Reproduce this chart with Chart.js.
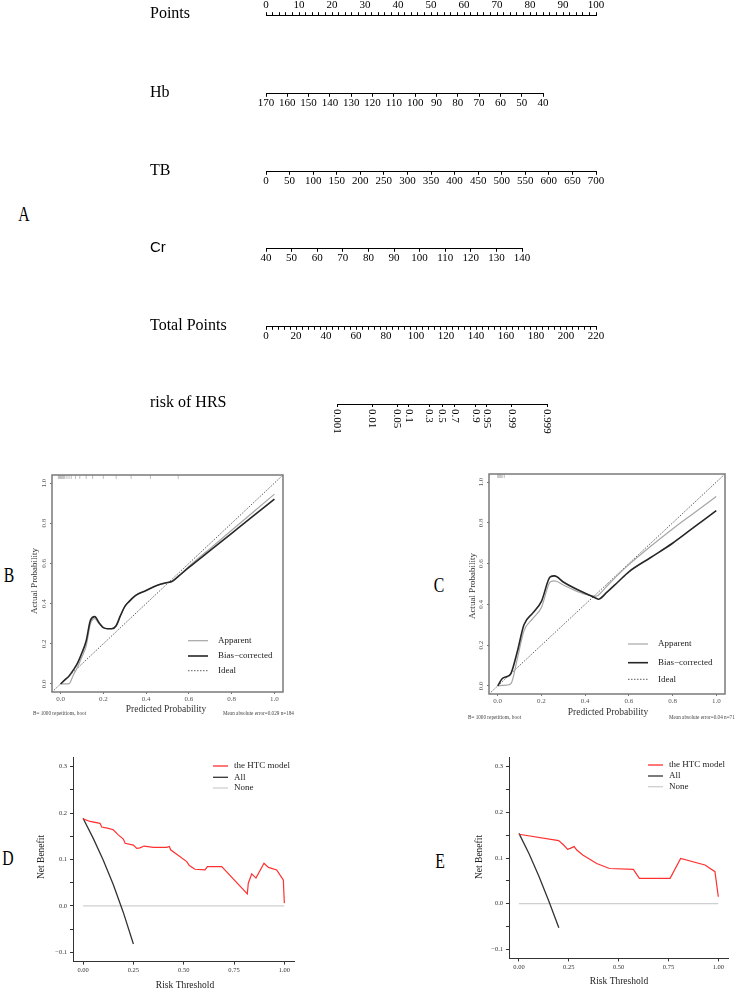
<!DOCTYPE html>
<html><head><meta charset="utf-8">
<script src="https://cdn.jsdelivr.net/npm/chart.js@4.4.1/dist/chart.umd.min.js"></script>
<style>
html,body{margin:0;padding:0;background:#fff;}
body{position:relative;width:736px;height:991px;overflow:hidden;}
canvas{position:absolute;}
.lt{position:absolute;width:30px;text-align:center;font-family:'Liberation Serif','Times New Roman',serif;font-size:21px;line-height:21px;color:#000;transform:scaleX(.75);}
</style></head><body>
<div class="lt" style="left:9px;top:204px">A</div>
<div class="lt" style="left:-6px;top:565px">B</div>
<div class="lt" style="left:424px;top:575px">C</div>
<div class="lt" style="left:-7px;top:848px">D</div>
<div class="lt" style="left:425px;top:851px">E</div>
<script>
const SERIF = "'Liberation Serif','Times New Roman',serif";
const SANS = "'Liberation Sans',Arial,sans-serif";

// ---------- Panel A: nomogram ----------
const pointsMajor = [0,10,20,30,40,50,60,70,80,90,100];
const hbTicks = [170,160,150,140,130,120,110,100,90,80,70,60,50,40];
const tbTicks = [0,50,100,150,200,250,300,350,400,450,500,550,600,650,700];
const crTicks = [40,50,60,70,80,90,100,110,120,130,140];
const totalMajor = [0,20,40,60,80,100,120,140,160,180,200,220];
const riskTicks = [0.001,0.01,0.05,0.1,0.3,0.5,0.7,0.9,0.95,0.99,0.999];
const riskLabels = ['0.001','0.01','0.05','0.1','0.3','0.5','0.7','0.9','0.95','0.99','0.999'];

// ---------- Panels B / C: calibration ----------
const calTicks = [0,0.2,0.4,0.6,0.8,1.0];
const calTickLabels = ['0.0','0.2','0.4','0.6','0.8','1.0'];
const idealLine = [-0.04, 1.04];
const calBX        = [0,0.02,0.04,0.06,0.08,0.10,0.12,0.14,0.16,0.18,0.20,0.22,0.24,0.26,0.28,0.30,0.32,0.35,0.40,0.45,0.50,0.52,0.55,0.60,0.70,0.80,0.90,1.00];
const calBBias     = [0,0.02,0.04,0.07,0.105,0.155,0.215,0.318,0.335,0.305,0.28,0.275,0.275,0.29,0.34,0.385,0.41,0.44,0.465,0.49,0.505,0.51,0.535,0.58,0.665,0.75,0.835,0.92];
const calBApparent = [0,0,0.002,0.045,0.085,0.135,0.19,0.30,0.325,0.30,0.28,0.275,0.275,0.29,0.34,0.385,0.41,0.44,0.465,0.49,0.505,0.51,0.535,0.585,0.675,0.765,0.855,0.945];
const rugB = [-0.01,-0.005,0,0.005,0.01,0.015,0.02,0.03,0.04,0.05,0.07,0.09,0.12,0.15,0.2,0.26,0.33,0.42,0.55];
const calCX        = [0,0.02,0.04,0.06,0.09,0.12,0.16,0.20,0.24,0.26,0.30,0.35,0.40,0.45,0.46,0.50,0.55,0.60,0.70,0.80,0.90,1.00];
const calCBias     = [0,0.035,0.045,0.06,0.17,0.30,0.357,0.415,0.535,0.54,0.51,0.48,0.455,0.43,0.425,0.46,0.51,0.56,0.63,0.70,0.78,0.86];
const calCApparent = [0,0.002,0.004,0.01,0.135,0.27,0.33,0.385,0.51,0.515,0.495,0.47,0.45,0.44,0.445,0.49,0.545,0.595,0.685,0.77,0.85,0.93];
const rugC = [0,0.005,0.01,0.015,0.02,0.03];
const rugLevel = 1.03;

// ---------- Panels D / E: decision curves ----------
const dcaXTicks = [0,0.25,0.5,0.75,1];
const dcaXLabels = ['0.00','0.25','0.50','0.75','1.00'];
const dcaYTicks = [-0.1,-0.05,0,0.05,0.1,0.15,0.2,0.25,0.3];
const dcaYLabels = ['\u22120.1','','0.0','','0.1','','0.2','','0.3'];
const noneX = [0,1];
const noneY = [0,0];
const dModelX = [0,0.035,0.084,0.093,0.126,0.15,0.175,0.2,0.209,0.25,0.267,0.283,0.303,0.35,0.416,0.429,0.435,0.515,0.528,0.556,0.606,0.618,0.689,0.816,0.821,0.838,0.859,0.899,0.921,0.962,0.978,0.995,1.0];
const dModelY = [0.1875,0.182,0.178,0.17,0.167,0.164,0.153,0.144,0.135,0.131,0.124,0.125,0.129,0.126,0.126,0.128,0.121,0.0955,0.087,0.079,0.0776,0.0848,0.0848,0.026,0.049,0.069,0.060,0.092,0.083,0.0776,0.067,0.056,0.006];
const dAllX = [0,0.05,0.10,0.15,0.20,0.25];
const dAllY = [0.189,0.146,0.099,0.046,-0.014,-0.082];
const eModelX = [0,0.199,0.224,0.244,0.257,0.277,0.29,0.32,0.39,0.454,0.574,0.604,0.758,0.811,0.933,0.983,1.0];
const eModelY = [0.152,0.138,0.1285,0.119,0.121,0.125,0.1175,0.1066,0.088,0.077,0.075,0.0555,0.0555,0.099,0.0847,0.070,0.015];
const eAllX = [0,0.05,0.10,0.15,0.20];
const eAllY = [0.154,0.11,0.06,0.005,-0.053];

// ---------- helpers ----------
function logit(p){ return Math.log(p/(1-p)); }
function range(a,b,st){ const r=[]; for(let v=a; v<=b+1e-9; v+=st) r.push(Math.round(v*1000)/1000); return r; }
function pts(xs, ys){ return xs.map((x,i)=>({x:x, y:ys[i]})); }
function makeCanvas(left, top, w, h){
  const c=document.createElement('canvas'); c.width=w; c.height=h;
  c.style.left=left+'px'; c.style.top=top+'px';
  document.body.appendChild(c); return c;
}
function drawText(ctx, s, x, y, o){
  ctx.save(); ctx.translate(x,y);
  if (o.rotate) ctx.rotate(o.rotate);
  if (o.sx) ctx.scale(o.sx,1);
  ctx.font = o.font; ctx.fillStyle = o.color || '#000';
  ctx.textAlign = o.align || 'center'; ctx.textBaseline = o.baseline || 'middle';
  ctx.fillText(s,0,0); ctx.restore();
}
const noInteract = {responsive:false, animation:false, events:[]};

// ---------- A: nomogram rows ----------
const rows = [
  {name:'Points', y:15, x0:266, x1:596, min:0, max:100, pos:'top', ticks:range(0,100,2), major:pointsMajor},
  {name:'Hb', y:94, x0:266, x1:543, min:40, max:170, reverse:true, ticks:hbTicks},
  {name:'TB', y:172, x0:266, x1:596, min:0, max:700, ticks:tbTicks},
  {name:'Cr', y:249, x0:266, x1:522, min:40, max:140, ticks:crTicks, sans:true},
  {name:'Total Points', y:327, x0:266, x1:596, min:0, max:220, ticks:range(0,220,4), major:totalMajor},
  {name:'risk of HRS', y:404, x0:337, x1:547, min:logit(0.001), max:logit(0.999), ticks:riskTicks.map(logit), rot:true}
];
rows.forEach((r, idx) => {
  const pos = r.pos || 'bottom';
  const H = r.rot ? 66 : 44;
  const cv = makeCanvas(0, 0, 736, H);
  const ch = new Chart(cv, {
    type:'scatter', data:{datasets:[]},
    options:Object.assign({}, noInteract, {
      layout:{padding:{left:r.x0, right:736-r.x1, top: pos==='top'?2:6, bottom: pos==='top'?6:(r.rot?42:2)}},
      plugins:{legend:{display:false}, tooltip:{enabled:false}},
      scales:{
        y:{display:false, min:0, max:1},
        x:{type:'linear', position:pos, min:r.min, max:r.max, reverse:!!r.reverse,
          afterBuildTicks: s => { s.ticks = r.ticks.map(v => ({value:v})); },
          grid:{display:true, drawOnChartArea:false, drawTicks:true, tickLength:3, color:'#000', lineWidth:1},
          border:{display:true, color:'#000', width:1},
          ticks:{display:!r.rot, autoSkip:false, minRotation:0, maxRotation:0, padding:0, color:'#000',
            font:{family:SERIF, size:11},
            callback: v => (r.major ? (r.major.indexOf(v) >= 0 ? String(v) : '') : String(v))}
        }
      }
    }),
    plugins:[{id:'nomoRow'+idx, afterDraw(chart){
      const s = chart.scales.x, ctx = chart.ctx;
      const lineY = pos==='top' ? s.bottom : s.top;
      drawText(ctx, r.name, 150, lineY+3, {font: r.sans ? ('15px '+SANS) : ('16px '+SERIF), align:'left', baseline:'alphabetic'});
      if (r.rot) {
        riskTicks.forEach((p,i) => drawText(ctx, riskLabels[i], s.getPixelForValue(logit(p)), lineY+5,
          {font:'11px '+SERIF, align:'left', baseline:'middle', rotate:Math.PI/2}));
      }
    }}]
  });
  const s = ch.scales.x;
  const lineY = pos==='top' ? s.bottom : s.top;
  cv.style.top = (r.y - lineY) + 'px';
});

// ---------- B / C: calibration ----------
function calibChart(c){
  const cv = makeCanvas(c.left, c.top, c.w, c.h);
  const A = c.area;
  new Chart(cv, {
    type:'scatter',
    data:{datasets:[
      {label:'Bias\u2212corrected', data:pts(c.x, c.bias), showLine:true, borderColor:'#262626', borderWidth:1.6, pointRadius:0, cubicInterpolationMode:'monotone'},
      {label:'Apparent', data:pts(c.x, c.app), showLine:true, borderColor:'#a6a6a6', borderWidth:1.2, pointRadius:0, cubicInterpolationMode:'monotone'},
      {label:'Ideal', data:pts(idealLine, idealLine), showLine:true, borderColor:'#333', borderWidth:0.8, borderDash:[1.5,1.5], pointRadius:0},
      {label:'rug', data:c.rug.map(v => ({x:v, y:rugLevel})), showLine:false, pointStyle:'line', rotation:90, pointRadius:2, borderColor:'rgba(110,110,110,0.45)', borderWidth:1}
    ]},
    options:Object.assign({}, noInteract, {
      layout:{padding:{left:0, top:A.top-c.top, right:c.left+c.w-A.right, bottom:0}},
      plugins:{legend:{display:false}, tooltip:{enabled:false}},
      scales:{
        x:{type:'linear', min:-0.04, max:1.04,
          afterBuildTicks: s => { s.ticks = calTicks.map(v => ({value:v})); },
          afterFit: s => { s.height = c.top + c.h - A.bottom; },
          grid:{display:true, drawOnChartArea:false, drawTicks:true, tickLength:2, color:'#777'},
          border:{display:false},
          ticks:{autoSkip:false, maxRotation:0, minRotation:0, padding:1, color:'#555', font:{family:SERIF, size:7},
            callback: (v,i) => calTickLabels[i]}
        },
        y:{type:'linear', min:-0.04, max:1.04,
          afterBuildTicks: s => { s.ticks = calTicks.map(v => ({value:v})); },
          afterFit: s => { s.width = A.left - c.left; },
          grid:{display:true, drawOnChartArea:false, drawTicks:true, tickLength:2, color:'#777'},
          border:{display:false},
          ticks:{display:false}
        }
      }
    }),
    plugins:[{id:'calib'+c.key, afterDraw(chart){
      const ctx = chart.ctx, a = chart.chartArea, ys = chart.scales.y;
      ctx.save();
      ctx.strokeStyle = '#7a7a7a'; ctx.lineWidth = 1.5;
      ctx.strokeRect(a.left, a.top, a.right-a.left, a.bottom-a.top);
      calTicks.forEach((v,i) => drawText(ctx, calTickLabels[i], a.left-8, ys.getPixelForValue(v), {font:'7px '+SERIF, color:'#555', rotate:-Math.PI/2}));
      ctx.translate(-c.left, -c.top);
      drawText(ctx, 'Actual Probability', c.ytX, c.ytY, {font:'9px '+SERIF, color:'#333', rotate:-Math.PI/2});
      drawText(ctx, 'Predicted Probability', c.xtX, c.xtY, {font:'9.5px '+SERIF, color:'#333'});
      drawText(ctx, 'B= 1000 repetitions, boot', c.f1X, c.fY, {font:'5.2px '+SERIF, color:'#444', align:'left'});
      drawText(ctx, c.mae, c.f2X, c.fY, {font:'5.2px '+SERIF, color:'#444', align:'left'});
      const order = [1,0,2];
      order.forEach((di, k) => {
        const ds = chart.data.datasets[di];
        const yy = c.legY[k];
        ctx.save();
        ctx.strokeStyle = ds.borderColor; ctx.lineWidth = ds.borderWidth;
        ctx.setLineDash(ds.borderDash || []);
        ctx.beginPath(); ctx.moveTo(c.legX0, yy); ctx.lineTo(c.legX1, yy); ctx.stroke();
        ctx.restore();
        drawText(ctx, ds.label, c.legT, yy, {font:'9px '+SERIF, color:'#222', align:'left'});
      });
      ctx.restore();
    }}]
  });
}
calibChart({key:'B', left:0, top:462, w:300, h:265, area:{left:52, top:475, right:283, bottom:692},
  x:calBX, bias:calBBias, app:calBApparent, rug:rugB,
  ytX:35, ytY:581, xtX:166, xtY:709, f1X:33, f2X:223, fY:714, mae:'Mean absolute error=0.029 n=184',
  legX0:188, legX1:208, legT:218, legY:[640.7,656,670.7]});
calibChart({key:'C', left:420, top:462, w:316, h:265, area:{left:489, top:474, right:725, bottom:694},
  x:calCX, bias:calCBias, app:calCApparent, rug:rugC,
  ytX:473, ytY:586, xtX:608, xtY:712.5, f1X:468, f2X:669, fY:718, mae:'Mean absolute error=0.04 n=71',
  legX0:628, legX1:648, legT:658, legY:[644,662.7,679.3]});

// ---------- D / E: decision curves ----------
function dcaChart(c){
  const cv = makeCanvas(c.left, c.top, c.w, c.h);
  const A = c.area;
  new Chart(cv, {
    type:'scatter',
    data:{datasets:[
      {label:'the HTC model', data:pts(c.mx, c.my), showLine:true, borderColor:'#ff3030', borderWidth:1.2, pointRadius:0},
      {label:'All', data:pts(c.ax, c.ay), showLine:true, borderColor:'#333', borderWidth:1.3, pointRadius:0},
      {label:'None', data:pts(noneX, noneY), showLine:true, borderColor:'#cfcfcf', borderWidth:1.3, pointRadius:0}
    ]},
    options:Object.assign({}, noInteract, {
      layout:{padding:{left:0, top:A.top-c.top, right:c.left+c.w-A.right, bottom:0}},
      plugins:{legend:{display:false}, tooltip:{enabled:false}},
      scales:{
        x:{type:'linear', min:-0.05, max:1.05,
          afterBuildTicks: s => { s.ticks = dcaXTicks.map(v => ({value:v})); },
          afterFit: s => { s.height = c.top + c.h - A.bottom; },
          grid:{display:true, drawOnChartArea:false, drawTicks:true, tickLength:3, color:'#333'},
          border:{display:true, color:'#333', width:1},
          ticks:{autoSkip:false, maxRotation:0, minRotation:0, padding:2, color:'#333', font:{family:SERIF, size:6.5},
            callback: (v,i) => dcaXLabels[i]}
        },
        y:{type:'linear', min:-0.12, max:0.32,
          afterBuildTicks: s => { s.ticks = dcaYTicks.map(v => ({value:v})); },
          afterFit: s => { s.width = A.left - c.left; },
          grid:{display:true, drawOnChartArea:false, drawTicks:true, tickLength:3, color:'#333'},
          border:{display:true, color:'#333', width:1},
          ticks:{autoSkip:false, padding:3, color:'#333', font:{family:SERIF, size:6.5},
            callback: (v,i) => dcaYLabels[i]}
        }
      }
    }),
    plugins:[{id:'dca'+c.key, afterDraw(chart){
      const ctx = chart.ctx;
      ctx.save();
      ctx.translate(-c.left, -c.top);
      drawText(ctx, 'Net Benefit', c.ytX, c.ytY, {font:'9.5px '+SERIF, color:'#222', rotate:-Math.PI/2});
      drawText(ctx, 'Risk Threshold', c.xtX, c.xtY, {font:'9.5px '+SERIF, color:'#222'});
      chart.data.datasets.forEach((ds,k) => {
        const yy = c.legY[k];
        ctx.save();
        ctx.strokeStyle = ds.borderColor; ctx.lineWidth = 1.3;
        ctx.beginPath(); ctx.moveTo(c.legX0, yy); ctx.lineTo(c.legX1, yy); ctx.stroke();
        ctx.restore();
        drawText(ctx, ds.label, c.legT, yy, {font:'9px '+SERIF, color:'#222', align:'left'});
      });
      ctx.restore();
    }}]
  });
}
dcaChart({key:'D', left:0, top:740, w:310, h:251, area:{left:73, top:757.4, right:294.4, bottom:961.6},
  mx:dModelX, my:dModelY, ax:dAllX, ay:dAllY,
  ytX:41.7, ytY:857, xtX:185, xtY:985.5,
  legX0:213, legX1:228, legT:234, legY:[766,777.3,788]});
dcaChart({key:'E', left:420, top:740, w:316, h:251, area:{left:509, top:757.6, right:728.3, bottom:958.4},
  mx:eModelX, my:eModelY, ax:eAllX, ay:eAllY,
  ytX:479.3, ytY:857, xtX:619, xtY:981,
  legX0:648, legX1:663, legT:669, legY:[765,776,786.7]});
</script>
</body></html>
